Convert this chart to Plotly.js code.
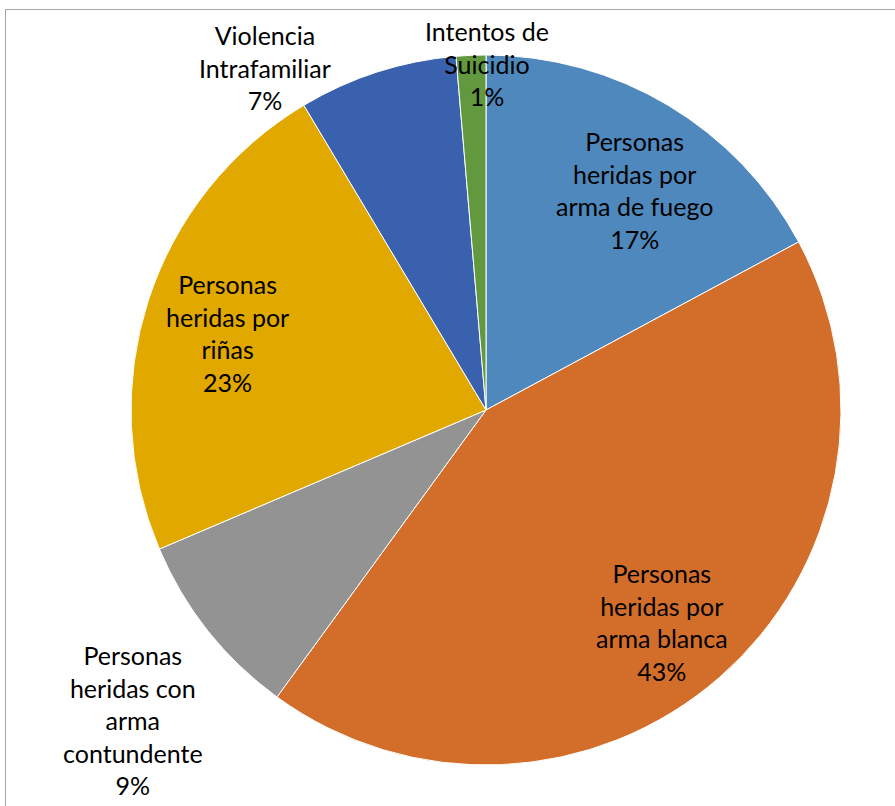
<!DOCTYPE html>
<html>
<head>
<meta charset="utf-8">
<script src="https://cdn.plot.ly/plotly-3.0.1.min.js"></script>
<style>
  html, body { margin: 0; padding: 0; background: #fff; }
  #chart { width: 895px; height: 806px; position: relative; }
  #frame { position: absolute; left: 5px; top: 9px; width: 1000px; height: 1000px;
           border-left: 1px solid #a6a6a6; border-top: 1px solid #a6a6a6; pointer-events: none; }
</style>
</head>
<body>
<div id="chart"></div>
<div id="frame"></div>
<script>
const categories = [
  "Personas heridas por arma de fuego",
  "Personas heridas por arma blanca",
  "Personas heridas con arma contundente",
  "Personas heridas por riñas",
  "Violencia Intrafamiliar",
  "Intentos de Suicidio"
];
const wrappedLabels = [
  "Personas<br>heridas por<br>arma de fuego",
  "Personas<br>heridas por<br>arma blanca",
  "Personas<br>heridas con<br>arma<br>contundente",
  "Personas<br>heridas por<br>riñas",
  "Violencia<br>Intrafamiliar",
  "Intentos de<br>Suicidio"
];
const values = [17.2, 43.0, 8.6, 22.9, 7.25, 1.35];
const colors = ["#4E88BD", "#D36E2A", "#939393", "#E1A800", "#3A61AE", "#62993E"];

const total = values.reduce((a, b) => a + b, 0);
const pctText = values.map(v => Math.round(v / total * 100) + "%");

const fontFamily = "Lato, 'Open Sans', sans-serif";

const trace = {
  type: "pie",
  labels: categories,
  values: values,
  textinfo: "none",
  sort: false,
  direction: "clockwise",
  rotation: 0,
  marker: { colors: colors, line: { color: "#ffffff", width: 1 } },
  hoverinfo: "label+percent",
  showlegend: false
};

// data label placement (paper coordinates of each label's centre)
const labelPos = [
  [0.7085, 0.810],
  [0.748, 0.2014],
  [0.003, 0.0634],
  [0.1366, 0.6085],
  [0.189, 0.9817],
  [0.501, 0.9887]
];
const annotations = categories.map((c, i) => ({
  text: wrappedLabels[i] + "<br>" + pctText[i],
  x: labelPos[i][0], y: labelPos[i][1],
  xref: "paper", yref: "paper",
  xanchor: "center", yanchor: "middle",
  showarrow: false,
  font: { family: fontFamily, size: 25, color: "#000" }
}));

const layout = {
  width: 895, height: 806,
  margin: { l: 131, r: 54, t: 55, b: 41 },
  paper_bgcolor: "#ffffff",
  plot_bgcolor: "#ffffff",
  annotations: annotations
};

Plotly.newPlot("chart", [trace], layout, { displayModeBar: false, staticPlot: true });
</script>
</body>
</html>
